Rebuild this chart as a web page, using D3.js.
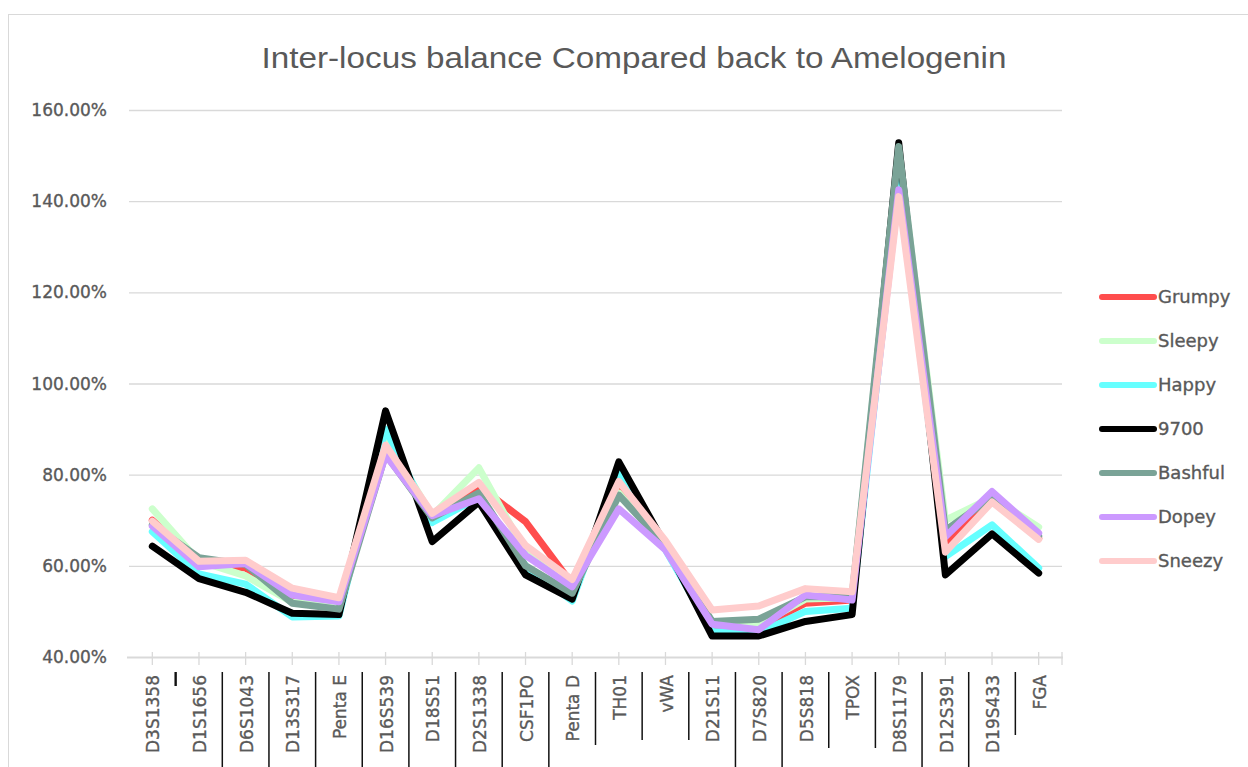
<!DOCTYPE html>
<html>
<head>
<meta charset="utf-8">
<title>Inter-locus balance</title>
<script src="https://d3js.org/d3.v7.min.js"></script>
<style>
  body { margin: 0; background: #fff; }
  text { font-family: "DejaVu Sans", sans-serif; fill: #595959; stroke: #595959; stroke-width: 0.35px; }
  text.title { stroke-width: 0; }
</style>
</head>
<body>
<div id="chart"></div>
<script>
// loci along the x axis
var loci = ["D3S1358", "D1S1656", "D6S1043", "D13S317", "Penta E", "D16S539", "D18S51", "D2S1338",
  "CSF1PO", "Penta D", "TH01", "vWA", "D21S11", "D7S820", "D5S818", "TPOX", "D8S1179", "D12S391",
  "D19S433", "FGA"];

// percentages
var grumpy  = [70.0, 60.5, 59.5, 53.0, 52.0, 86.0, 71.0, 77.5, 69.7, 56.0, 78.0, 64.5, 46.3, 46.5, 51.8, 52.5, 148.0, 65.0, 74.5, 66.0];
var sleepy  = [72.5, 61.0, 57.8, 52.0, 51.5, 88.0, 71.0, 81.5, 63.0, 55.0, 76.0, 64.0, 47.5, 47.0, 52.7, 53.0, 151.0, 70.0, 75.0, 68.5];
var happy   = [67.5, 58.2, 56.0, 48.8, 49.0, 90.0, 69.5, 75.0, 60.0, 52.3, 80.4, 63.5, 45.6, 45.3, 50.0, 50.7, 144.0, 62.0, 69.0, 59.5];
var s9700   = [64.3, 57.2, 54.2, 49.6, 49.3, 94.0, 65.3, 74.0, 58.0, 52.7, 82.8, 64.5, 44.6, 44.6, 47.8, 49.3, 152.8, 58.0, 67.0, 58.4];
var bashful = [69.0, 61.8, 60.3, 51.8, 50.5, 84.5, 70.5, 76.0, 60.0, 54.0, 75.5, 64.5, 47.8, 48.3, 53.2, 53.2, 152.0, 67.8, 75.0, 66.5];
var dopey   = [68.7, 59.8, 60.5, 53.6, 52.1, 84.3, 71.0, 74.7, 62.3, 55.4, 72.5, 63.5, 47.2, 46.0, 53.6, 52.5, 142.5, 66.4, 76.3, 67.2];
var sneezy  = [69.8, 61.0, 61.2, 55.1, 53.0, 86.5, 71.5, 78.3, 64.5, 57.0, 78.5, 65.5, 50.3, 51.2, 55.0, 54.3, 141.0, 63.0, 74.0, 65.8];

var seriesNames = ["Grumpy", "Sleepy", "Happy", "9700", "Bashful", "Dopey", "Sneezy"];
var seriesValues = [grumpy, sleepy, happy, s9700, bashful, dopey, sneezy];
var seriesColors = ["#ff4d4d", "#ccffcc", "#66ffff", "#000000", "#7aa397", "#cc99ff", "#ffcccc"];

var yTicks = [40, 60, 80, 100, 120, 140, 160];

var width = 1248, height = 767;
var svg = d3.select("#chart").append("svg").attr("width", width).attr("height", height);

// chart frame
svg.append("rect").attr("x", 8.5).attr("y", 14.5).attr("width", 1400).attr("height", 900)
  .attr("fill", "none").attr("stroke", "#d9d9d9");

svg.append("text").attr("class", "title").attr("x", 634).attr("y", 68).attr("text-anchor", "middle")
  .style("font-family", "'Liberation Sans', sans-serif").style("font-size", "30px")
  .attr("textLength", 745).attr("lengthAdjust", "spacingAndGlyphs")
  .text("Inter-locus balance Compared back to Amelogenin");

var x = d3.scaleBand().domain(loci).range([129, 1062]);
var y = d3.scaleLinear().domain([40, 160]).range([657, 110]);
function cx(d) { return x(d) + x.bandwidth() / 2; }

// gridlines
svg.append("g").selectAll("line").data(yTicks.slice(1)).enter().append("line")
  .attr("x1", 129).attr("x2", 1062)
  .attr("y1", function(d) { return y(d) + 0.5; }).attr("y2", function(d) { return y(d) + 0.5; })
  .attr("stroke", "#d9d9d9").attr("stroke-width", 1.3);

// y labels
svg.append("g").selectAll("text").data(yTicks).enter().append("text")
  .attr("x", 107).attr("y", function(d) { return y(d); }).attr("dy", "0.36em")
  .attr("text-anchor", "end").style("font-size", "17px")
  .text(function(d) { return d3.format(".2f")(d) + "%"; });

// x axis line and ticks
var ax = svg.append("g");
ax.append("line").attr("x1", 127).attr("x2", 1063).attr("y1", 657.5).attr("y2", 657.5)
  .attr("stroke", "#d9d9d9").attr("stroke-width", 2);
ax.selectAll("line.tk").data(loci.map(cx).concat([1062])).enter().append("line").attr("class", "tk")
  .attr("x1", function(d) { return d; }).attr("x2", function(d) { return d; })
  .attr("y1", 652).attr("y2", 665).attr("stroke", "#d9d9d9").attr("stroke-width", 1.3);

// category labels
svg.append("g").selectAll("text").data(loci).enter().append("text")
  .attr("transform", function(d) { return "translate(" + (cx(d) + 1) + ",675) rotate(-90)"; })
  .attr("dy", "0.36em").attr("text-anchor", "end").style("font-size", "17px")
  .text(function(d) { return d; });

// label separators (bottom end of each one)
var sepEnds = [686, 767, 767, 767, 767, 767, 767, 767, 767, 745, 740, 740, 767, 767, 748, 748, 767, 767, 735];
svg.append("g").selectAll("line").data(sepEnds).enter().append("line")
  .attr("x1", function(d, i) { return x(loci[i + 1]); }).attr("x2", function(d, i) { return x(loci[i + 1]); })
  .attr("y1", 672).attr("y2", function(d) { return d; })
  .attr("stroke", "#111").attr("stroke-width", function(d, i) { return i === 0 ? 2.4 : 1.5; });

// series lines
var line = d3.line().x(function(d, i) { return cx(loci[i]); }).y(function(d) { return y(d); });
svg.append("g").selectAll("path").data(seriesValues).enter().append("path")
  .attr("d", line).attr("fill", "none")
  .attr("stroke", function(d, i) { return seriesColors[i]; })
  .attr("stroke-width", 7).attr("stroke-linejoin", "round").attr("stroke-linecap", "round");

// legend
var leg = svg.append("g").selectAll("g").data(seriesNames).enter().append("g")
  .attr("transform", function(d, i) { return "translate(0," + (297 + i * 44) + ")"; });
leg.append("line").attr("x1", 1102).attr("x2", 1154).attr("y1", 0).attr("y2", 0)
  .attr("stroke", function(d, i) { return seriesColors[i]; })
  .attr("stroke-width", 6).attr("stroke-linecap", "round");
leg.append("text").attr("x", 1158).attr("dy", "0.36em").style("font-size", "18px")
  .text(function(d) { return d; });
</script>
</body>
</html>
